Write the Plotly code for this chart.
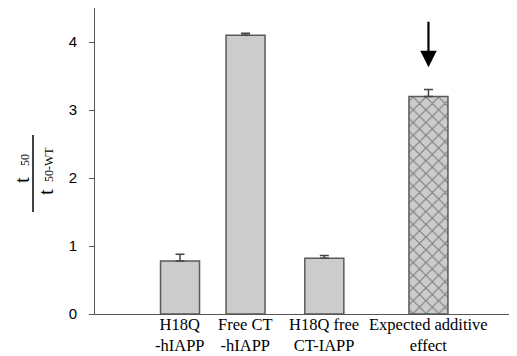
import plotly.graph_objects as go

# Data
label_line1 = ["H18Q", "Free CT", "H18Q free", "Expected additive"]
label_line2 = ["-hIAPP", "-hIAPP", "CT-IAPP", "effect"]
positions = [2.18, 3.86, 5.88, 8.55]
values = [0.78, 4.10, 0.82, 3.20]
errors = [0.10, 0.03, 0.04, 0.10]
patterns = ["", "", "", "x"]
arrow_tip = 3.63
arrow_tail = 4.32
y_ticks = [0, 1, 2, 3, 4]

fig = go.Figure()
fig.add_trace(go.Bar(
    x=positions, y=values, width=1.0,
    marker=dict(color="#cccccc", line=dict(color="#5a5a5a", width=1.5),
                pattern=dict(shape=patterns, fgcolor="#333333", size=9, solidity=0.25,
                             fillmode="overlay")),
    error_y=dict(type="data", symmetric=False, array=errors, arrayminus=[0]*4,
                 color="#444444", thickness=1.5, width=4.5),
))

fig.add_annotation(x=positions[3], y=arrow_tip, ax=positions[3], ay=arrow_tail,
                   xref="x", yref="y", axref="x", ayref="y", text="",
                   showarrow=True, arrowhead=2, arrowsize=1.5, arrowwidth=2.2,
                   arrowcolor="black")

# Category labels (two lines each, one text block per bar)
for p, l1, l2 in zip(positions, label_line1, label_line2):
    fig.add_annotation(x=p, y=0, xref="x", yref="paper", yshift=-41.5,
                       text=l1 + "<br>" + l2, showarrow=False, yanchor="bottom",
                       borderpad=0,
                       font=dict(family="Liberation Serif", size=16.5, color="black"))

# Y-axis fraction label: pieces placed in page pixels relative to the plot's left/bottom
def ylab(text, px, py, size):
    fig.add_annotation(x=0, y=(314 - py) / 306, xref="paper", yref="paper",
                       xshift=px - 95, textangle=-90, text=text, showarrow=False,
                       xanchor="center", yanchor="middle",
                       font=dict(family="Liberation Serif", size=size, color="black"))

ylab("t", 22, 180, 21)
ylab("50", 25, 160, 12)
ylab("t", 46, 192, 21)
ylab("50-WT", 49, 165, 12)
fig.add_shape(type="line", xref="paper", yref="paper",
              x0=(33-95)/422, x1=(33-95)/422, y0=(314-135)/306, y1=(314-212)/306,
              line=dict(color="black", width=1.5))

fig.update_layout(
    width=509, height=348, margin=dict(l=87, r=0, t=0, b=42),
    paper_bgcolor="white", plot_bgcolor="white", showlegend=False,
    xaxis=dict(range=[0, 10.82], showticklabels=False,
               showline=True, linecolor="#555555", linewidth=1, ticks="",
               showgrid=False, zeroline=False),
    yaxis=dict(range=[0, 4.5], tickvals=y_ticks, showline=True, linecolor="#555555",
               linewidth=1, ticks="outside", ticklen=5, tickcolor="#555555",
               ticklabelstandoff=9, showgrid=False, zeroline=False,
               tickfont=dict(family="Liberation Sans", size=15, color="black")),
)

fig.write_html("out.html")
